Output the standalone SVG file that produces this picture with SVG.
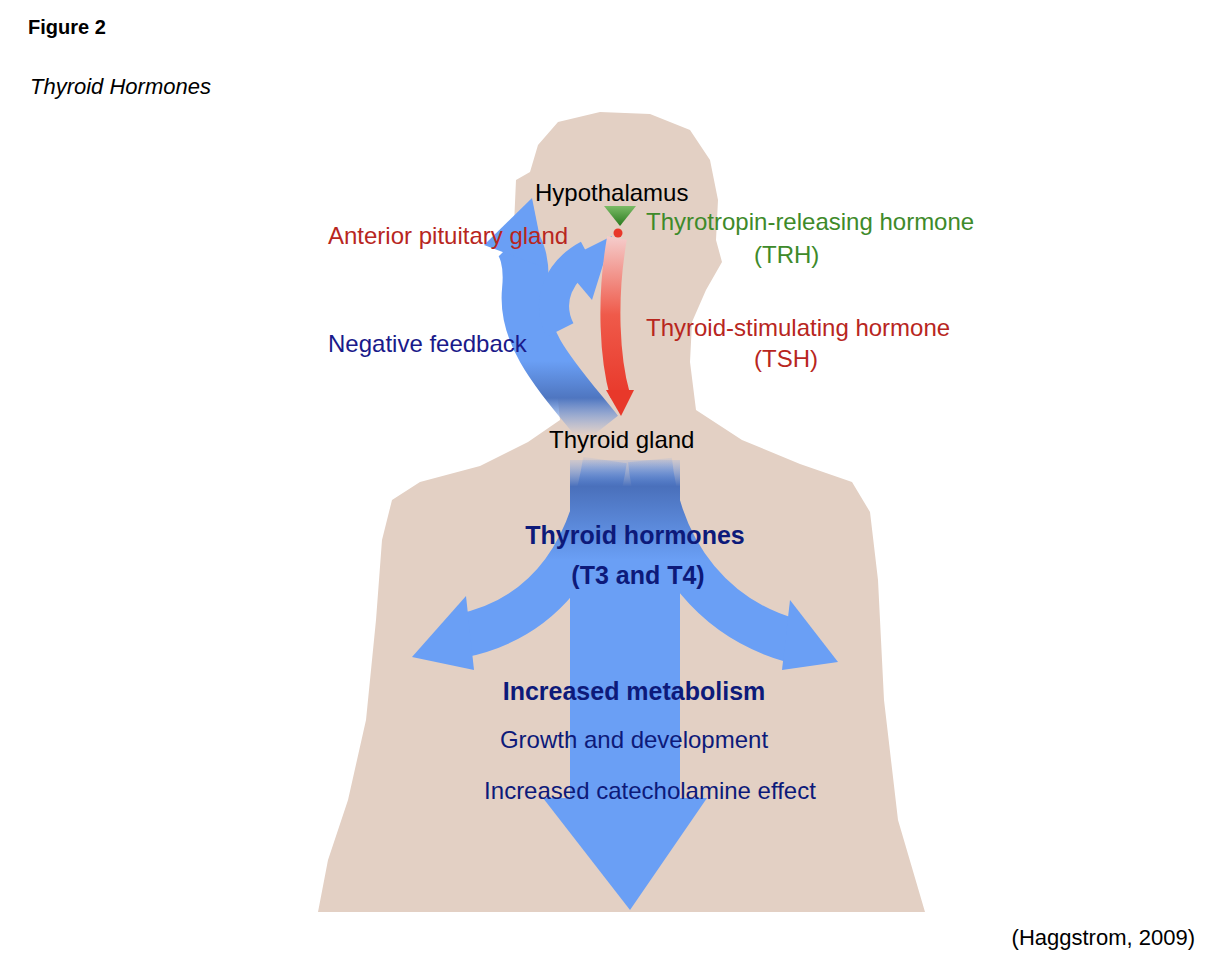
<svg xmlns="http://www.w3.org/2000/svg" width="1228" height="974" viewBox="0 0 1228 974">
<style>
text{font-family:"Liberation Sans",Arial,sans-serif}
.blue{fill:#6a9ff5}
.bs{fill:none;stroke:#6a9ff5}
</style>
<defs>
<linearGradient id="red" x1="0" y1="230" x2="0" y2="400" gradientUnits="userSpaceOnUse">
<stop offset="0" stop-color="#f5d6d6"/><stop offset="0.5" stop-color="#ef5a4a"/><stop offset="1" stop-color="#e8382a"/></linearGradient>
<linearGradient id="fb" x1="0" y1="250" x2="0" y2="435" gradientUnits="userSpaceOnUse">
<stop offset="0.6" stop-color="#6a9ff5"/><stop offset="0.8" stop-color="#4f76c0"/><stop offset="1" stop-color="#6a9ff5" stop-opacity="0"/></linearGradient>
<linearGradient id="out" x1="0" y1="455" x2="0" y2="560" gradientUnits="userSpaceOnUse">
<stop offset="0" stop-color="#6a9ff5" stop-opacity="0"/><stop offset="0.3" stop-color="#4a70bb"/><stop offset="1" stop-color="#6a9ff5"/></linearGradient>
<linearGradient id="grn" x1="0" y1="205" x2="0" y2="225" gradientUnits="userSpaceOnUse">
<stop offset="0" stop-color="#7fbf6a"/><stop offset="1" stop-color="#2e7d22"/></linearGradient>
</defs>
<text x="28" y="34" font-size="20" font-weight="bold">Figure 2</text>
<text x="30" y="94" font-size="22" font-style="italic">Thyroid Hormones</text>
<g id="body">
<path fill="#e3d0c4" d="M318,912 L328,860 348,800 366,720 376,620 382,540 392,500 420,482 480,466 528,442 560,420 556,380 548,340 532,300 524,255 514,225 516,180 530,172 538,145 558,122 600,112 650,114 690,130 710,160 718,200 716,240 722,262 706,290 692,322 690,362 696,410 742,440 800,464 852,482 870,512 878,580 884,700 898,820 925,912 Z"/>
</g>
<g id="connectors">
<g id="feedback">
<path d="M600,430 C560,380 520,340 525,290 C528,260 520,245 515,240" fill="none" stroke="url(#fb)" stroke-width="46"/>
<path d="M560,330 C545,300 560,270 588,255" fill="none" stroke="#6a9ff5" stroke-width="30"/>
<polygon class="blue" points="484,245 532,198 546,268"/>
<polygon class="blue" points="560,262 612,236 592,300"/>
</g>
<g id="tsh">
<path d="M617,238 C606,300 610,360 620,395" fill="none" stroke="url(#red)" stroke-width="20"/>
<polygon points="606,390 634,390 621,416" fill="#e8382a"/>
</g>
<polygon points="604,206 636,206 620,226" fill="url(#grn)"/>
<circle cx="618" cy="233" r="4.5" fill="#e8382a"/>
<g id="outputs">
<path d="M625,460 L625,800" fill="none" stroke="url(#out)" stroke-width="110"/>
<polygon class="blue" points="543,798 707,798 630,910"/>
<path d="M605,460 C590,560 540,620 460,636" fill="none" stroke="url(#out)" stroke-width="44"/>
<polygon class="blue" points="412,657 466,596 474,670"/>
<path d="M650,460 C660,560 720,620 790,640" fill="none" stroke="url(#out)" stroke-width="44"/>
<polygon class="blue" points="838,662 782,670 790,600"/>
</g>
</g>
<g id="labels" font-size="24">
<text x="535" y="201">Hypothalamus</text>
<text x="328" y="244" fill="#b8261e">Anterior pituitary gland</text>
<text x="646" y="230" fill="#3e8a2a">Thyrotropin-releasing hormone</text>
<text x="754" y="263" fill="#3e8a2a">(TRH)</text>
<text x="328" y="352" fill="#1a1a8a">Negative feedback</text>
<text x="646" y="336" fill="#b8261e">Thyroid-stimulating hormone</text>
<text x="754" y="367" fill="#b8261e">(TSH)</text>
<text x="549" y="448">Thyroid gland</text>
<text x="635" y="544" text-anchor="middle" font-weight="bold" font-size="25" fill="#0d1a7a">Thyroid hormones</text>
<text x="638" y="584" text-anchor="middle" font-weight="bold" font-size="25" fill="#0d1a7a">(T3 and T4)</text>
<text x="634" y="700" text-anchor="middle" font-weight="bold" font-size="25" fill="#0d1a7a">Increased metabolism</text>
<text x="634" y="748" text-anchor="middle" fill="#0d1a7a">Growth and development</text>
<text x="650" y="799" text-anchor="middle" fill="#0d1a7a">Increased catecholamine effect</text>
<text x="1195" y="945" text-anchor="end" font-size="22">(Haggstrom, 2009)</text>
</g>
</svg>
